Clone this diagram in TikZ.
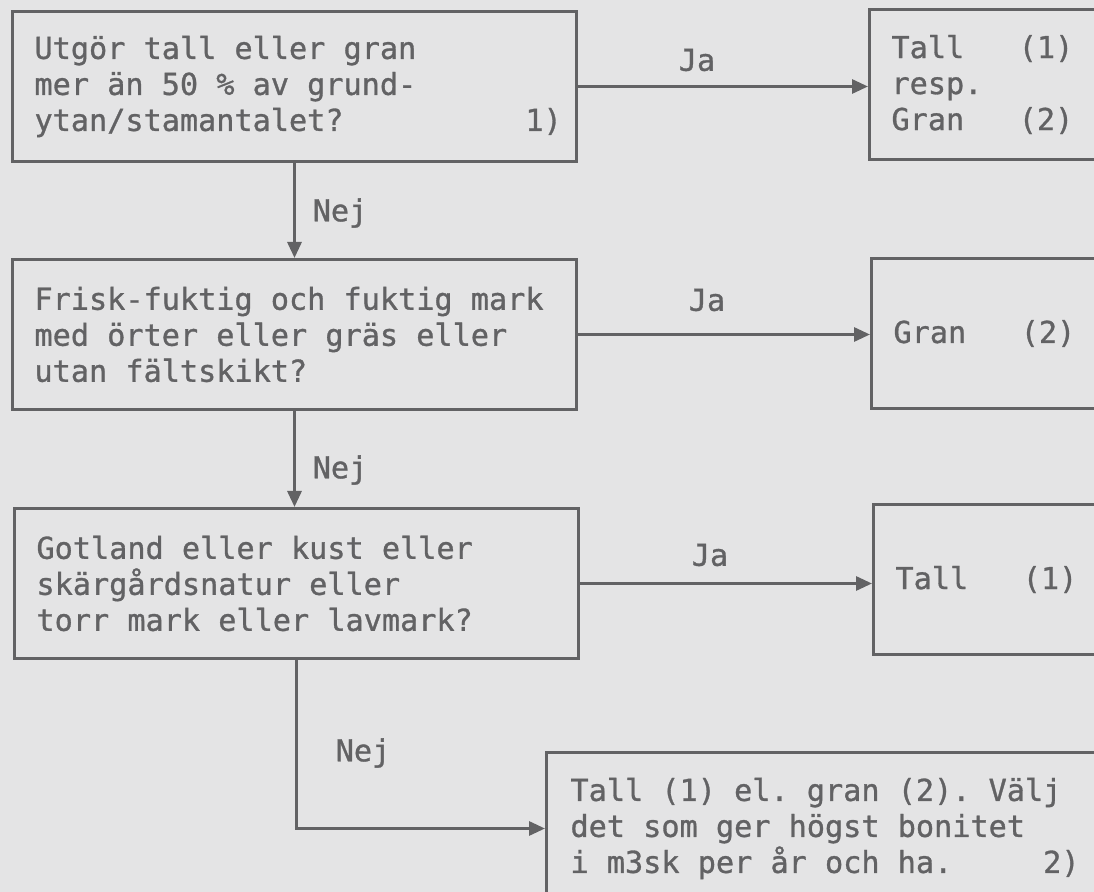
\documentclass[tikz,border=0pt]{standalone}
\usepackage{fontspec}
\setmonofont{DejaVu Sans Mono}[FakeBold=1]
\usepackage{xcolor}
\usetikzlibrary{arrows.meta}

\definecolor{paper}{RGB}{228,228,229}
\definecolor{ink}{RGB}{98,98,100}
% mellanslag lika breda som tecknen
\newcommand{\faststeg}{\fontdimen2\font=0.602em\relax\spaceskip=0.602em\relax\xspaceskip=0.602em\relax}

\begin{document}
\begin{tikzpicture}[x=0.5pt, y=-0.5pt,
    every node/.style={font=\ttfamily\fontsize{15.1}{18}\selectfont, text=ink,
        execute at begin node=\faststeg},
    box/.style={draw=ink, line width=1.5pt, anchor=north west, align=left,
        inner xsep=11pt, inner ysep=0pt, minimum height=75pt},
    fraga/.style={box, text width=260pt},
    svar/.style={box, text width=98pt},
    pil/.style={draw=ink, line width=1.5pt, -{Triangle[length=8pt,width=7pt]}}]
        \useasboundingbox (0,0) rectangle (1094,892);
        \clip (0,0) rectangle (1094,892);
        \fill[paper] (0,0) rectangle (1094,892);

        % fragorna
        \node[fraga] (q1) at (11,10) {Utgör tall eller gran\\mer än 50 \% av grund-\\ytan/stamantalet?~~~~~~~~~~1)};
        \node[fraga] (q2) at (11,258) {Frisk-fuktig och fuktig mark\\med örter eller gräs eller\\utan fältskikt?};
        \node[fraga] (q3) at (13,507) {Gotland eller kust eller\\skärgårdsnatur eller\\torr mark eller lavmark?};

        % svaren
        \node[svar] (r1) at (868,8) {Tall~~~(1)\\resp.\\Gran~~~(2)};
        \node[svar] (r2) at (870,257) {Gran~~~(2)};
        \node[svar] (r3) at (872,503) {Tall~~~(1)};
        \node[box, text width=256pt, inner xsep=12pt, minimum height=76pt] (r4) at (545,751)
            {Tall (1) el. gran (2). Välj\\det som ger högst bonitet\\i m3sk per år och ha.~~~~~2)};

        % pilar
        \draw[pil] (q1.east) -- (q1.east -| r1.west);
        \draw[pil] (q2.east) -- (q2.east -| r2.west);
        \draw[pil] (q3.east) -- (q3.east -| r3.west);
        \draw[pil] (q1.south) -- (q1.south |- q2.north);
        \draw[pil] (q2.south) -- (q2.south |- q3.north);
        \draw[pil] (q3.south) |- (r4.west);

        \node (ja1) at (697,60) {Ja};
        \node (ja2) at (707,300) {Ja};
        \node (ja3) at (710,555) {Ja};
        \node (nej1) at (340,213) {Nej};
        \node (nej2) at (340,470) {Nej};
        \node (nej3) at (363,753) {Nej};
    \end{tikzpicture}
\end{document}
